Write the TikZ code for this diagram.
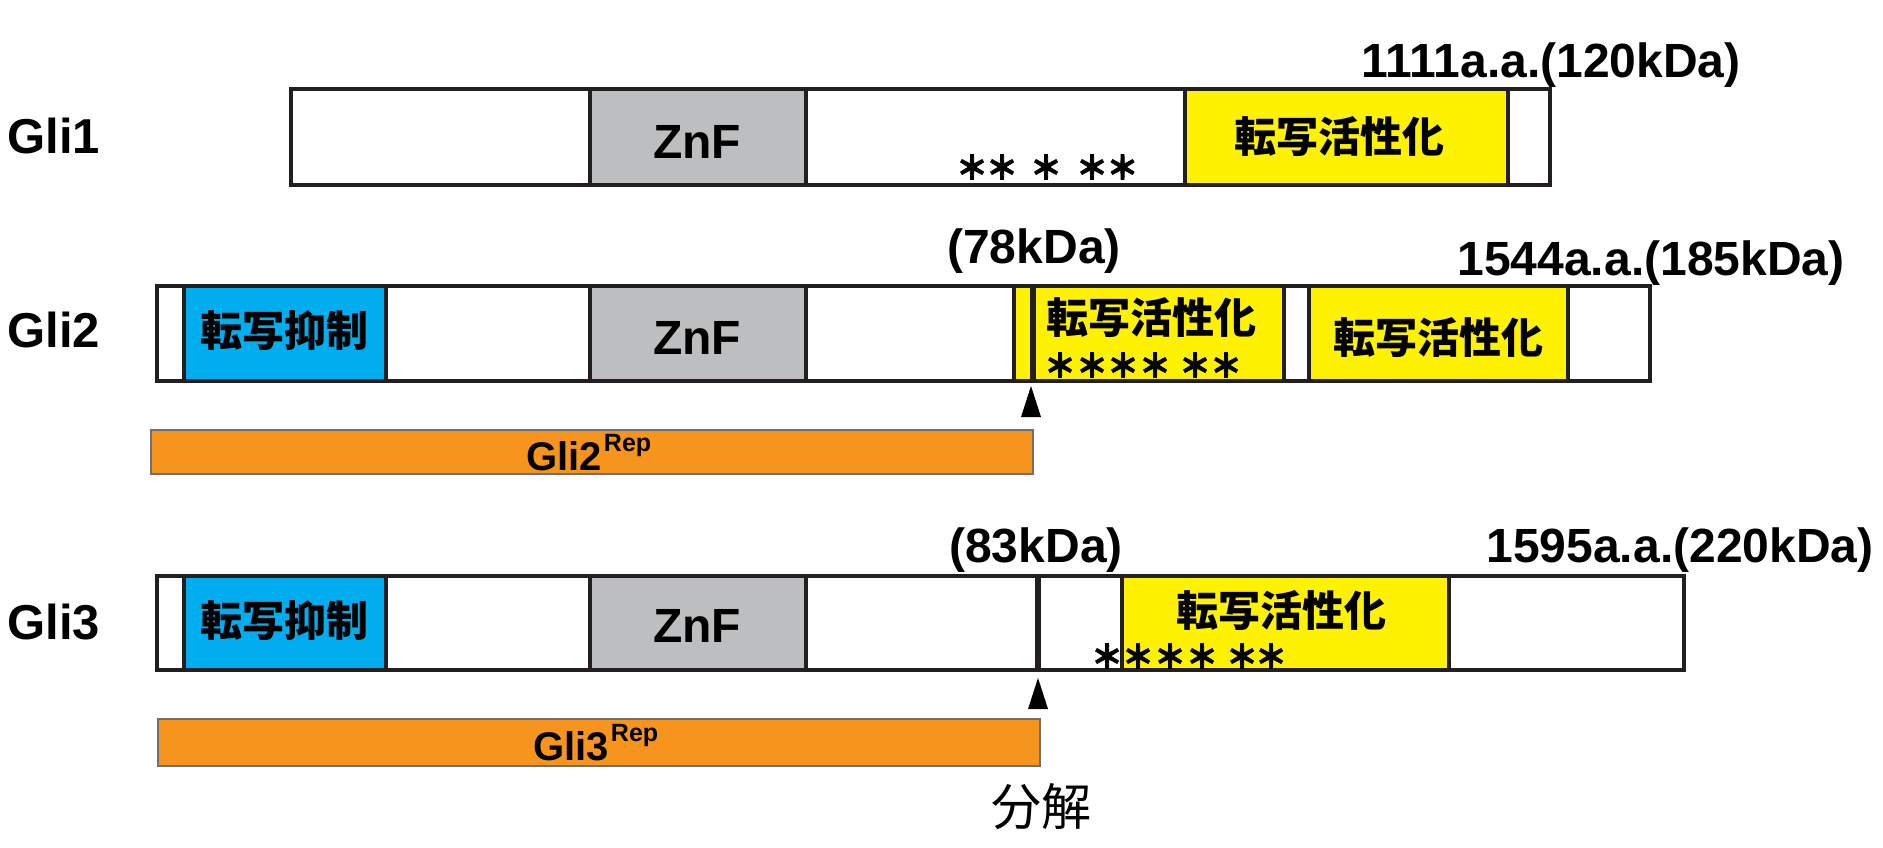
\documentclass[tikz,border=0pt]{standalone}
\usepackage{fontspec}
\setmainfont{Liberation Sans}
\newfontfamily\jp{Noto Sans CJK JP}
\newfontfamily\jpstar{Noto Sans CJK JP}[FakeBold=2.5]
\definecolor{ln}{HTML}{231F20}
\definecolor{gr}{HTML}{BCBEC0}
\definecolor{bl}{HTML}{00AEEF}
\definecolor{ye}{HTML}{FFF200}
\definecolor{orf}{HTML}{F7941E}
\definecolor{orl}{HTML}{6D6E71}
\begin{document}
\begin{tikzpicture}[x=0.5pt,y=-0.5pt,
  seg/.style={draw=ln,line width=2pt},
  lat/.style={font=\fontsize{24}{28}\selectfont\bfseries, inner sep=0pt},
  glab/.style={font=\fontsize{24.5}{28}\selectfont\bfseries, inner sep=0pt, anchor=west},
  jpb/.style={font=\jp\fontsize{21}{24}\selectfont\bfseries, inner sep=0pt},
  star/.style={font=\jpstar\fontsize{16}{16}\selectfont\bfseries, inner sep=0pt},
  cutline/.style={draw=ln, line width=3pt},
  tri/.style={fill=black},
  repbar/.style={fill=orf, draw=orl, line width=1pt},
  replab/.style={font=\fontsize{20}{22}\selectfont\bfseries, inner sep=0pt, anchor=base west}]
\useasboundingbox (0,0) rectangle (1883,847);
\fill[white] (0,0) rectangle (1883,847);
% ---------- Gli1 ----------
\node[glab] (l1) at (7,136) {Gli1};
\draw[seg,fill=white] (290.6,89) rectangle (589.6,185);
\draw[seg,fill=gr]    (589.6,89) rectangle (806,185);
\draw[seg,fill=white] (806,89) rectangle (1185,185);
\draw[seg,fill=ye]    (1185,89) rectangle (1508,185);
\draw[seg,fill=white] (1508,89) rectangle (1550,185);
\node[lat] (z1) at (697,142) {ZnF};
\node[jpb] (a1) at (1339,137) {転写活性化};
\foreach \x [count=\i] in {972,1002,1046,1092,1122.5} \node[star] (sa\i) at (\x,167) {＊};
\node[lat, anchor=base] (m1) at (1551,77) {1111a.a.(120kDa)};
% ---------- Gli2 ----------
\node[glab] (l2) at (7,330) {Gli2};
\draw[seg,fill=white] (157,286) rectangle (184,381);
\draw[seg,fill=bl]    (184,286) rectangle (385.5,381);
\draw[seg,fill=white] (385.5,286) rectangle (589.6,381);
\draw[seg,fill=gr]    (589.6,286) rectangle (806,381);
\draw[seg,fill=white] (806,286) rectangle (1014,381);
\draw[seg,fill=ye]    (1014,286) rectangle (1284,381);
\draw[seg,fill=white] (1284,286) rectangle (1309,381);
\draw[seg,fill=ye]    (1309,286) rectangle (1568,381);
\draw[seg,fill=white] (1568,286) rectangle (1650,381);
\draw[cutline] (1033,286) -- (1033,381);
\node[jpb] (r2) at (284,331) {転写抑制};
\node[lat] (z2) at (697,338) {ZnF};
\node[jpb] (a2) at (1151,318) {転写活性化};
\node[jpb] (b2) at (1438,338) {転写活性化};
\foreach \x [count=\i] in {1060,1092,1123,1155,1195,1226} \node[star] (sb\i) at (\x,365) {＊};
\node[lat, anchor=base] (k2) at (1034,263) {(78kDa)};
\node[lat, anchor=base] (m2) at (1651,275) {1544a.a.(185kDa)};
\coordinate (c2) at (1031,386);
\fill[tri] (c2) -- ++(10,31) -- ++(-20,0) -- cycle;
\draw[repbar] (151,430) rectangle (1033,474);
\node[replab] (g2) at (526,470) {Gli2\kern1pt\raisebox{9.5pt}{\fontsize{12.5}{13}\selectfont Rep}};
% ---------- Gli3 ----------
\node[glab] (l3) at (7,622) {Gli3};
\draw[seg,fill=white] (157,576) rectangle (184,670);
\draw[seg,fill=bl]    (184,576) rectangle (385.5,670);
\draw[seg,fill=white] (385.5,576) rectangle (589.6,670);
\draw[seg,fill=gr]    (589.6,576) rectangle (806,670);
\draw[seg,fill=white] (806,576) rectangle (1122,670);
\draw[seg,fill=ye]    (1122,576) rectangle (1449,670);
\draw[seg,fill=white] (1449,576) rectangle (1684,670);
\draw[cutline] (1037.5,576) -- (1037.5,670);
\node[jpb] (r3) at (284,621) {転写抑制};
\node[lat] (z3) at (697,626) {ZnF};
\node[jpb] (a3) at (1281,611) {転写活性化};
\foreach \x [count=\i] in {1107,1138,1170,1202,1242,1271} \node[star] (sc\i) at (\x,656) {＊};
\node[lat, anchor=base] (k3) at (1036,562) {(83kDa)};
\node[lat, anchor=base] (m3) at (1680,562) {1595a.a.(220kDa)};
\coordinate (c3) at (1038,678);
\fill[tri] (c3) -- ++(10,31) -- ++(-20,0) -- cycle;
\draw[repbar] (158,719) rectangle (1040,766);
\node[replab] (g3) at (533,760) {Gli3\kern1pt\raisebox{9.5pt}{\fontsize{12.5}{13}\selectfont Rep}};
\node[font=\jp\fontsize{25}{28}\selectfont, inner sep=0pt] (dg) at (1041,807) {分解};
\end{tikzpicture}
\end{document}
